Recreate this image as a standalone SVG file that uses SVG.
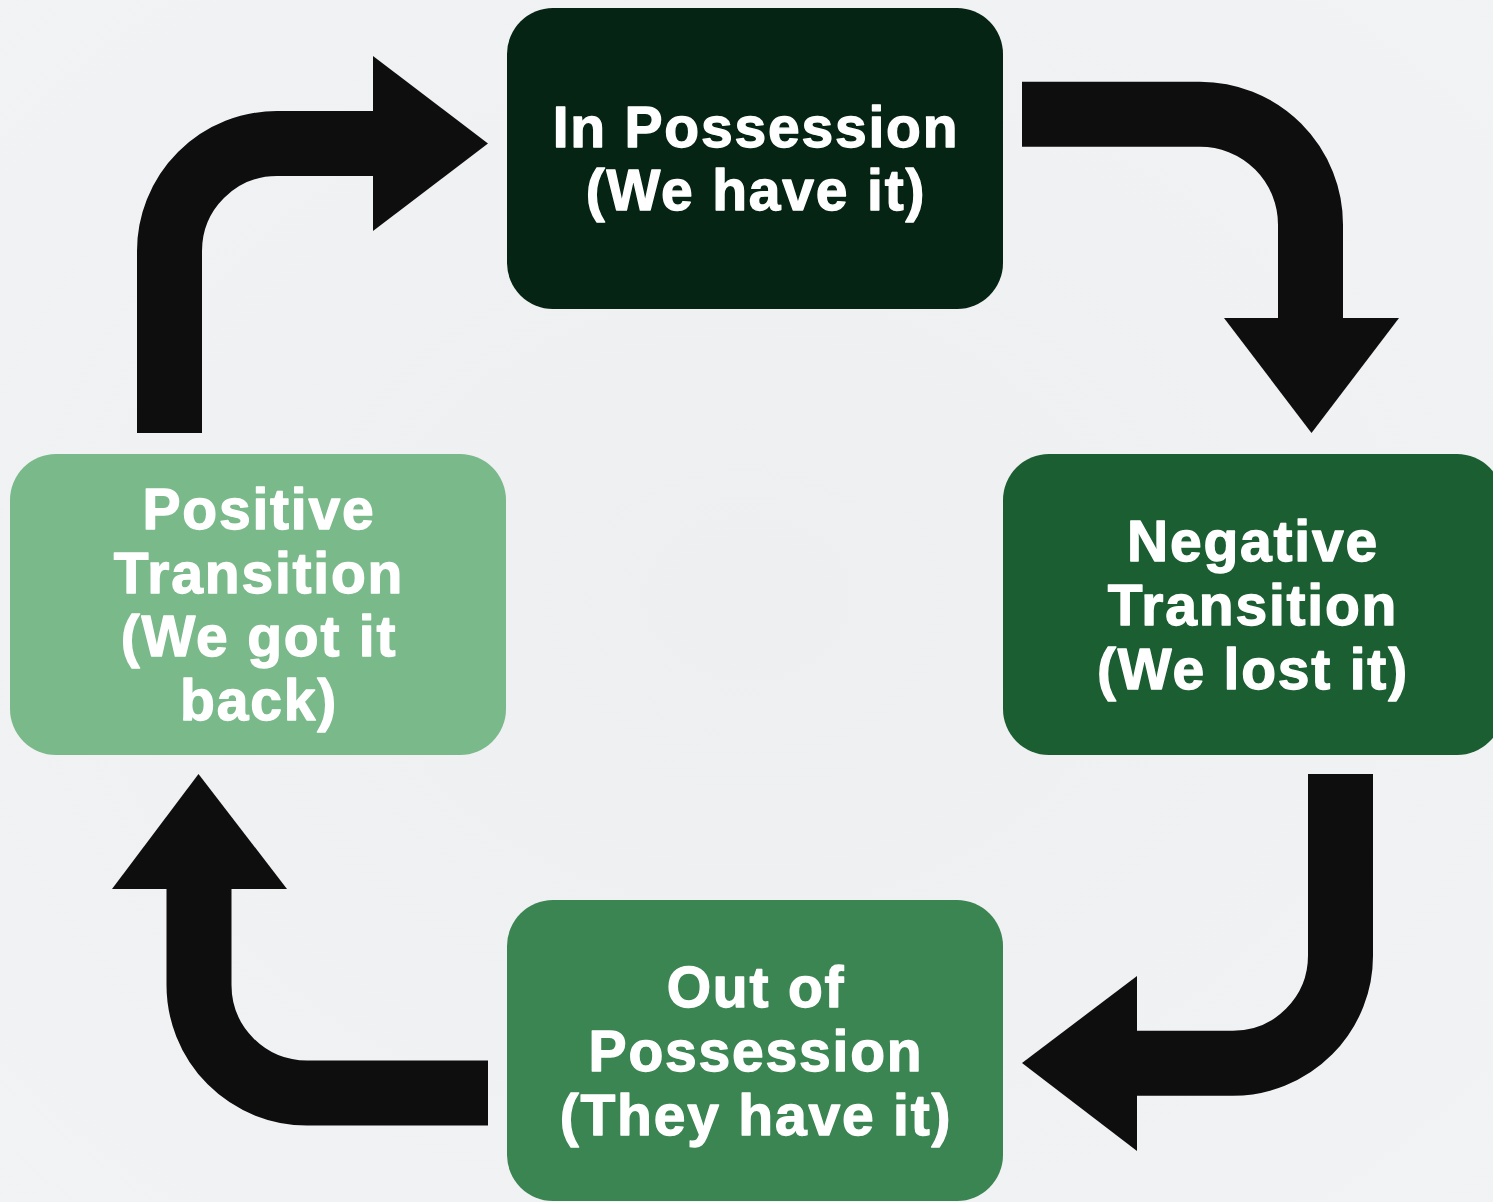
<svg xmlns="http://www.w3.org/2000/svg" width="1493" height="1202" viewBox="0 0 1493 1202">
<style>
.box{stroke:none}
.lbl{font-family:"Liberation Sans",Arial,sans-serif;font-weight:bold;font-size:57px;fill:#ffffff;stroke:#ffffff;stroke-width:1.3px;stroke-linejoin:round;text-anchor:middle;letter-spacing:1.8px}
.shaft{fill:none;stroke:#0e0e0e;stroke-width:65;stroke-linecap:butt}
.head{fill:#0e0e0e}
</style>
<defs>
<radialGradient id="bg" cx="50%" cy="50%" r="75%">
<stop offset="0" stop-color="#eeeff1"/>
<stop offset="1" stop-color="#f2f3f5"/>
</radialGradient>
</defs>
<rect x="0" y="0" width="1493" height="1202" fill="url(#bg)"/>
<g id="connectors">
<g id="arrow-top-left">
<path class="shaft" d="M169.5 433 V251 A107.5 107.5 0 0 1 277 143.5 H374"/>
<polygon class="head" points="373,56 488,143.5 373,231"/>
</g>
<g id="arrow-top-right">
<path class="shaft" d="M1022 114.2 H1200 A110.5 110.5 0 0 1 1310.5 224.7 V319"/>
<polygon class="head" points="1224,318 1399,318 1311.5,433"/>
</g>
<g id="arrow-bottom-right">
<path class="shaft" d="M1340.5 774 V955 A107.5 107.5 0 0 1 1233 1063.2 H1136"/>
<polygon class="head" points="1137,976 1022,1063 1137,1151"/>
</g>
<g id="arrow-bottom-left">
<path class="shaft" d="M488 1093 H307 A108 108 0 0 1 199 985 V888"/>
<polygon class="head" points="112,889 198.5,774 287,889"/>
</g>
</g>
<g id="node-in-possession">
<rect class="box" x="507" y="8" width="496" height="301" rx="46" fill="#062414"/>
<text class="lbl" x="756" y="147">In Possession</text>
<text class="lbl" x="756" y="210">(We have it)</text>
</g>
<g id="node-negative-transition">
<rect class="box" x="1003" y="454" width="500" height="301" rx="46" fill="#1b5e32"/>
<text class="lbl" x="1253" y="561">Negative</text>
<text class="lbl" x="1253" y="625">Transition</text>
<text class="lbl" x="1253" y="689">(We lost it)</text>
</g>
<g id="node-out-of-possession">
<rect class="box" x="507" y="900" width="496" height="301" rx="46" fill="#3a8552"/>
<text class="lbl" x="756" y="1007">Out of</text>
<text class="lbl" x="756" y="1071">Possession</text>
<text class="lbl" x="756" y="1135">(They have it)</text>
</g>
<g id="node-positive-transition">
<rect class="box" x="10" y="454" width="496" height="301" rx="46" fill="#7ab98a"/>
<text class="lbl" x="259" y="529">Positive</text>
<text class="lbl" x="259" y="593">Transition</text>
<text class="lbl" x="259" y="656">(We got it</text>
<text class="lbl" x="259" y="720">back)</text>
</g>
</svg>
